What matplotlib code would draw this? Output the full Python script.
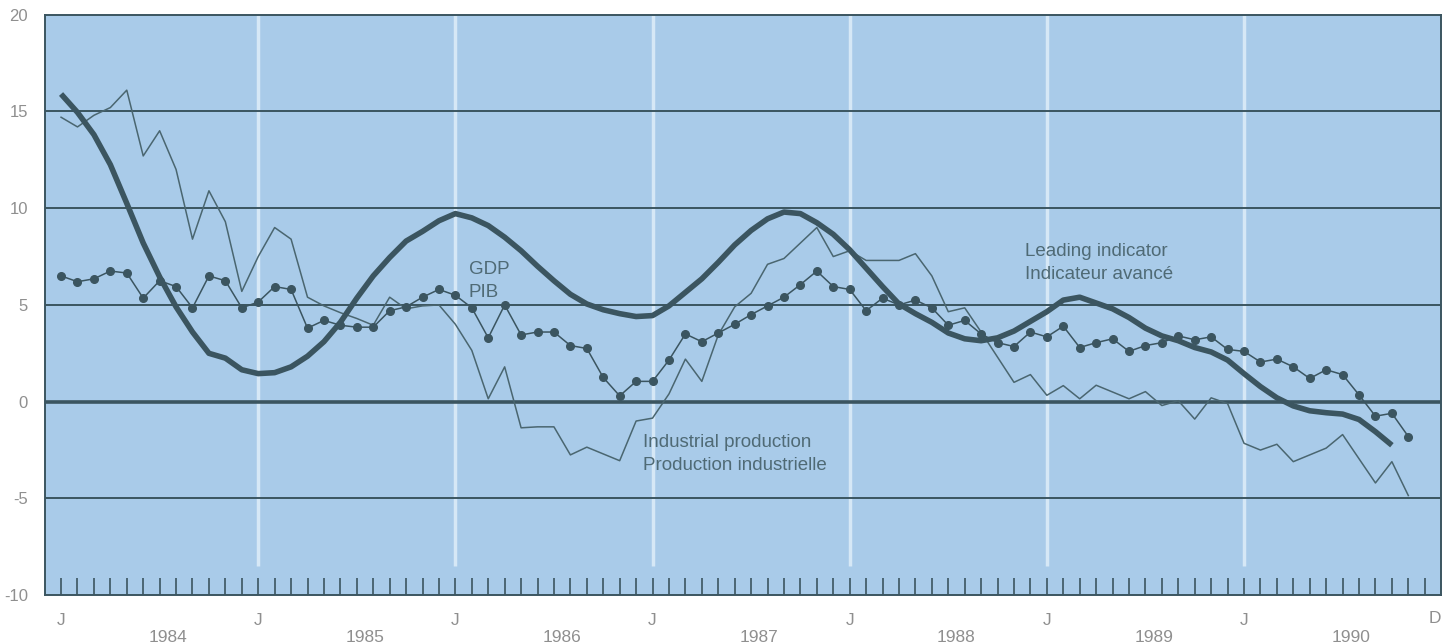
import numpy as np
import matplotlib.pyplot as plt

plt.rcParams['font.family'] = ['Liberation Sans', 'DejaVu Sans']
plt.rcParams['axes.unicode_minus'] = False

# Datos mensuales: mes 0 = enero 1984
indicador = [15.9, 14.95, 13.8, 12.25, 10.25, 8.2, 6.45, 4.9, 3.6, 2.5, 2.25, 1.65,
             1.45, 1.5, 1.8, 2.35, 3.1, 4.1, 5.35, 6.5, 7.45, 8.3, 8.8, 9.35,
             9.72, 9.5, 9.1, 8.5, 7.8, 7.0, 6.25, 5.55, 5.05, 4.75, 4.55, 4.4,
             4.45, 4.95, 5.65, 6.35, 7.2, 8.1, 8.85, 9.45, 9.8, 9.72, 9.25, 8.65,
             7.85, 6.9, 5.95, 5.05, 4.55, 4.1, 3.55, 3.25, 3.15, 3.3, 3.65, 4.15,
             4.65, 5.25, 5.4, 5.1, 4.8, 4.35, 3.8, 3.4, 3.15, 2.8, 2.57, 2.15,
             1.45, 0.78, 0.2, -0.22, -0.47, -0.57, -0.64, -0.92, -1.55, -2.25]

produccion = [14.7, 14.2, 14.8, 15.2, 16.1, 12.7, 14.0, 12.0, 8.4, 10.9, 9.3, 5.7,
              7.5, 9.0, 8.4, 5.4, 4.95, 4.6, 4.3, 3.95, 5.4, 4.8, 4.95, 5.0,
              4.0, 2.65, 0.15, 1.8, -1.35, -1.3, -1.3, -2.75, -2.35, -2.7, -3.05, -1.0,
              -0.85, 0.4, 2.2, 1.05, 3.45, 4.9, 5.6, 7.1, 7.4, 8.2, 9.0, 7.5,
              7.8, 7.3, 7.3, 7.3, 7.65, 6.5, 4.65, 4.85, 3.6, 2.3, 1.0, 1.4,
              0.33, 0.83, 0.15, 0.85, 0.5, 0.15, 0.52, -0.2, 0.05, -0.9, 0.2, -0.1,
              -2.15, -2.5, -2.2, -3.1, -2.75, -2.4, -1.7, -2.95, -4.2, -3.1, -4.85]

pib = [6.5, 6.2, 6.35, 6.75, 6.65, 5.35, 6.25, 5.95, 4.85, 6.5, 6.25, 4.85,
       5.15, 5.95, 5.8, 3.8, 4.2, 3.95, 3.85, 3.85, 4.7, 4.9, 5.4, 5.8,
       5.5, 4.85, 3.3, 5.0, 3.45, 3.6, 3.6, 2.9, 2.75, 1.25, 0.3, 1.05,
       1.05, 2.15, 3.5, 3.1, 3.55, 4.0, 4.5, 4.95, 5.4, 6.05, 6.75, 5.95,
       5.8, 4.7, 5.35, 5.0, 5.25, 4.85, 3.95, 4.2, 3.5, 3.05, 2.85, 3.6,
       3.35, 3.9, 2.8, 3.05, 3.25, 2.6, 2.9, 3.05, 3.4, 3.2, 3.35, 2.7,
       2.6, 2.05, 2.2, 1.8, 1.2, 1.65, 1.4, 0.35, -0.75, -0.6, -1.8]

anios = ["1984", "1985", "1986", "1987", "1988", "1989", "1990"]
yticks = [-10, -5, 0, 5, 10, 15, 20]

oscuro = '#3b5560'
gris = '#8f8f8f'
texto = '#4f6a75'

fig = plt.figure(figsize=(14.49, 6.44), dpi=100)
ax = fig.add_axes([0.0308, 0.0758, 0.9638, 0.9014])
ax.set_facecolor('#a9cbe9')

# Lineas blancas al inicio de cada año (menos el primero)
ax.vlines(np.arange(12, 84, 12), -8.5, 20, color='#d6e8f6', lw=2.5, zorder=1)

# Lineas horizontales
for y in [15, 10, 5, -5]:
    ax.axhline(y, color=oscuro, lw=1.4, zorder=2)
ax.axhline(0, color=oscuro, lw=2.6, zorder=2)

# Series
ax.plot(np.arange(len(produccion)), produccion, color='#4a6670', lw=1.1, zorder=3)
ax.plot(np.arange(len(pib)), pib, color=oscuro, lw=1.1, marker='o', ms=5.5,
        markerfacecolor=oscuro, markeredgecolor=oscuro, zorder=4)
ax.plot(np.arange(len(indicador)), indicador, color=oscuro, lw=4.0,
        solid_capstyle='butt', solid_joinstyle='round', zorder=5)

ax.set_xlim(-1, 84)
ax.set_ylim(-10, 20)

for s in ax.spines.values():
    s.set_color(oscuro)
    s.set_linewidth(1.4)

# Marcas de cada mes
ax.set_xticks(np.arange(0, 84))
ax.tick_params(axis='x', direction='in', length=12, width=1.2, color=oscuro,
               labelbottom=False)
ax.set_yticks(yticks)
ax.tick_params(axis='y', length=0, pad=12, labelcolor=gris, labelsize=12)

# Etiquetas del eje x
for i, a in enumerate(anios):
    ax.text(12 * i, -11.3, "J", ha='center', va='center', color=gris,
            fontsize=12.5, clip_on=False)
    ax.text(12 * i + 6.5, -12.2, a, ha='center', va='center', color=gris,
            fontsize=12.5, clip_on=False)
ax.text(83.6, -11.2, "D", ha='center', va='center', color=gris,
        fontsize=12.5, clip_on=False)

# Nombres de las series
ax.text(24.8, 6.85, "GDP", ha='left', va='center', color=texto, fontsize=13.5, zorder=6)
ax.text(24.8, 5.65, "PIB", ha='left', va='center', color=texto, fontsize=13.5, zorder=6)
ax.text(35.4, -2.1, "Industrial production", ha='left', va='center', color=texto,
        fontsize=13.5, zorder=6)
ax.text(35.4, -3.3, "Production industrielle", ha='left', va='center', color=texto,
        fontsize=13.5, zorder=6)
ax.text(58.7, 7.75, "Leading indicator", ha='left', va='center', color=texto,
        fontsize=13.5, zorder=6)
ax.text(58.7, 6.55, "Indicateur avancé", ha='left', va='center', color=texto,
        fontsize=13.5, zorder=6)

fig.savefig("out.png", dpi=100)
